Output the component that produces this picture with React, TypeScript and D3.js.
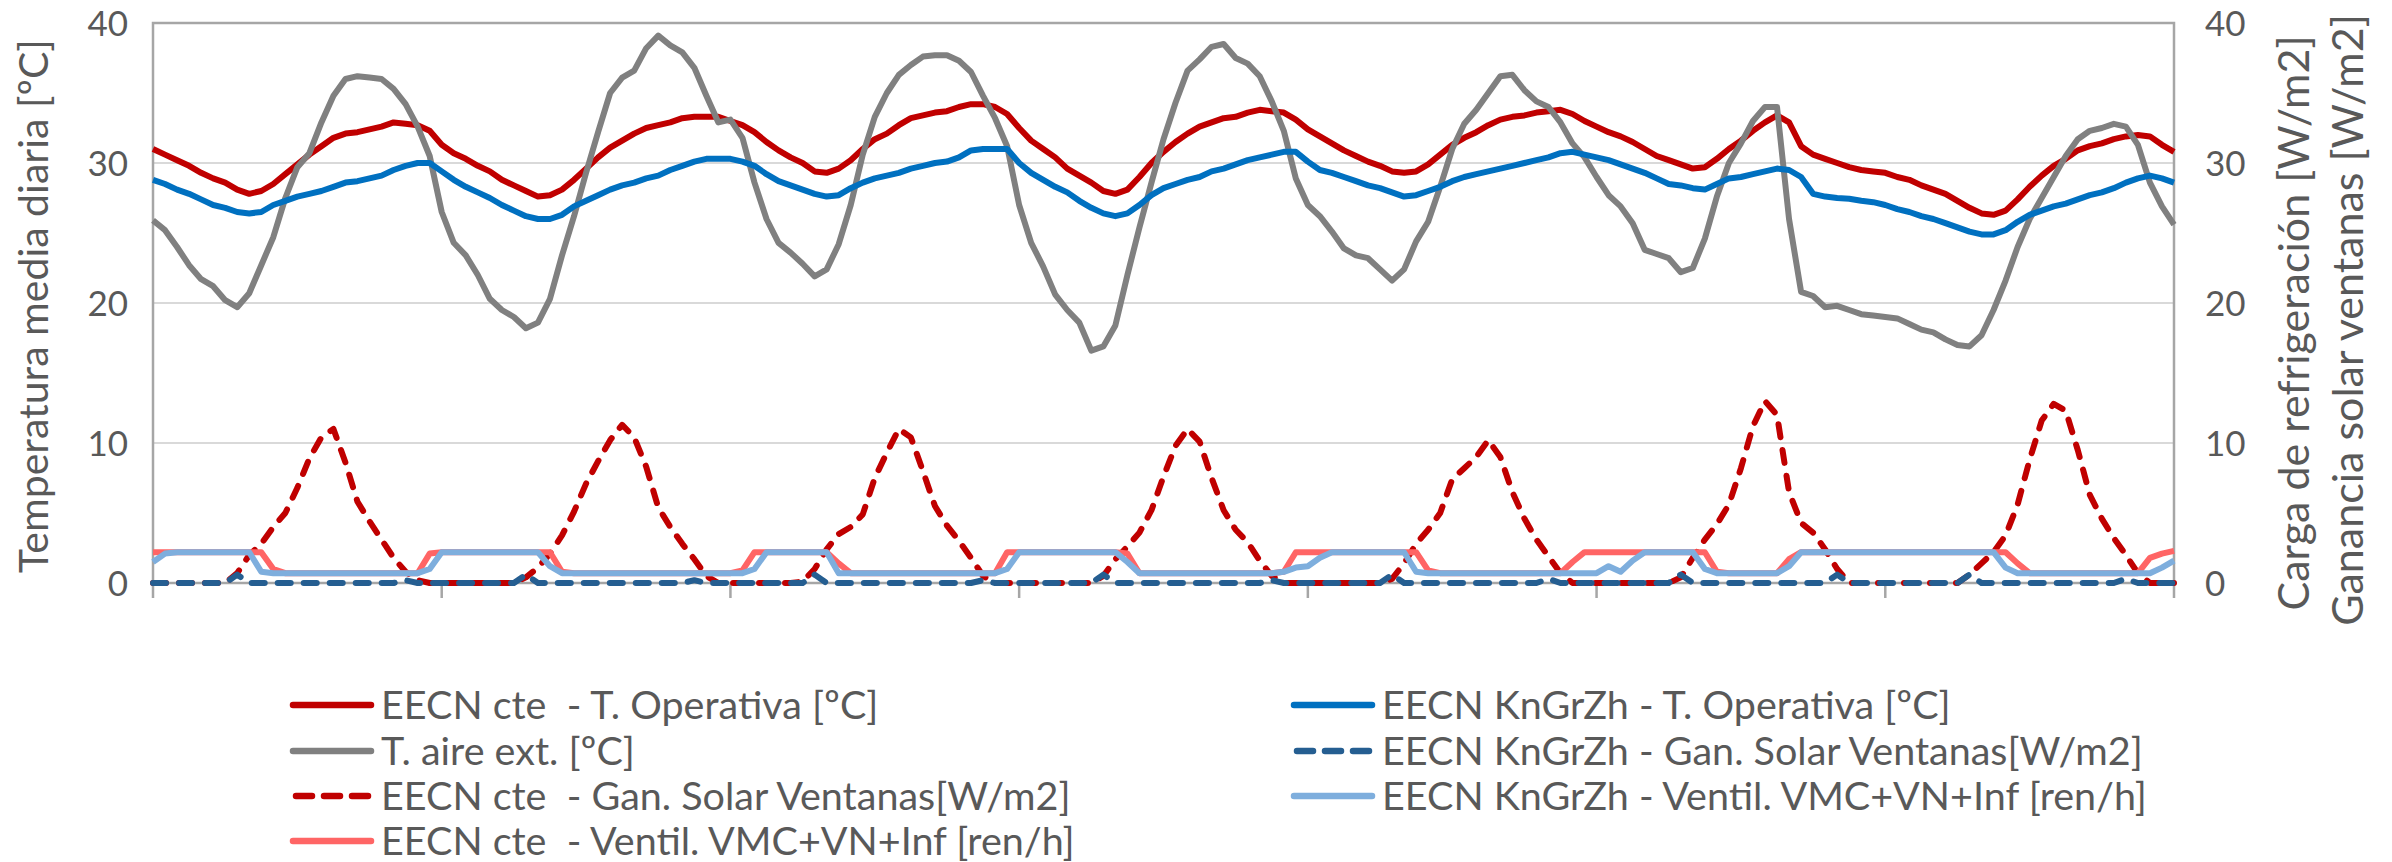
import React, { useEffect, useRef } from 'react';
import * as d3 from 'd3';

// hourly values, 7 days (169 points, hour 0..168)
const tOperCte = [
  31.0, 30.6, 30.2, 29.8, 29.3, 28.9, 28.6, 28.1, 27.8, 28.0, 28.5, 29.2, 29.9, 30.6, 31.2, 31.8, 32.1, 32.2, 32.4, 32.6, 32.9, 32.8, 32.7, 32.3,
  31.3, 30.7, 30.3, 29.8, 29.4, 28.8, 28.4, 28.0, 27.6, 27.7, 28.1, 28.8, 29.6, 30.4, 31.1, 31.6, 32.1, 32.5, 32.7, 32.9, 33.2, 33.3, 33.3, 33.3,
  33.0, 32.7, 32.2, 31.5, 30.9, 30.4, 30.0, 29.4, 29.3, 29.6, 30.2, 31.0, 31.7, 32.1, 32.7, 33.2, 33.4, 33.6, 33.7, 34.0, 34.2, 34.2, 34.0, 33.5,
  32.5, 31.6, 31.0, 30.4, 29.6, 29.1, 28.6, 28.0, 27.8, 28.1, 29.0, 30.0, 30.8, 31.5, 32.1, 32.6, 32.9, 33.2, 33.3, 33.6, 33.8, 33.7, 33.6, 33.1,
  32.4, 31.9, 31.4, 30.9, 30.5, 30.1, 29.8, 29.4, 29.3, 29.4, 29.9, 30.6, 31.3, 31.8, 32.2, 32.7, 33.1, 33.3, 33.4, 33.6, 33.7, 33.8, 33.5, 33.0,
  32.6, 32.2, 31.9, 31.5, 31.0, 30.5, 30.2, 29.9, 29.6, 29.7, 30.3, 31.0, 31.6, 32.3, 32.9, 33.4, 32.9, 31.2, 30.6, 30.3, 30.0, 29.7, 29.5, 29.4,
  29.3, 29.0, 28.8, 28.4, 28.1, 27.8, 27.3, 26.8, 26.4, 26.3, 26.6, 27.4, 28.3, 29.1, 29.8, 30.3, 30.9, 31.2, 31.4, 31.7, 31.9, 32.0, 31.9, 31.3, 30.8
];

const tOperKn = [
  28.8, 28.5, 28.1, 27.8, 27.4, 27.0, 26.8, 26.5, 26.4, 26.5, 27.0, 27.3, 27.6, 27.8, 28.0, 28.3, 28.6, 28.7, 28.9, 29.1, 29.5, 29.8, 30.0, 30.0,
  29.4, 28.8, 28.3, 27.9, 27.5, 27.0, 26.6, 26.2, 26.0, 26.0, 26.3, 26.9, 27.3, 27.7, 28.1, 28.4, 28.6, 28.9, 29.1, 29.5, 29.8, 30.1, 30.3, 30.3,
  30.3, 30.1, 29.8, 29.2, 28.7, 28.4, 28.1, 27.8, 27.6, 27.7, 28.2, 28.6, 28.9, 29.1, 29.3, 29.6, 29.8, 30.0, 30.1, 30.4, 30.9, 31.0, 31.0, 31.0,
  30.0, 29.3, 28.8, 28.3, 27.9, 27.3, 26.8, 26.4, 26.2, 26.4, 27.0, 27.7, 28.2, 28.5, 28.8, 29.0, 29.4, 29.6, 29.9, 30.2, 30.4, 30.6, 30.8, 30.8,
  30.1, 29.5, 29.3, 29.0, 28.7, 28.4, 28.2, 27.9, 27.6, 27.7, 28.0, 28.3, 28.7, 29.0, 29.2, 29.4, 29.6, 29.8, 30.0, 30.2, 30.4, 30.7, 30.8, 30.6,
  30.4, 30.2, 29.9, 29.6, 29.3, 28.9, 28.5, 28.4, 28.2, 28.1, 28.5, 28.9, 29.0, 29.2, 29.4, 29.6, 29.5, 29.0, 27.8, 27.6, 27.5, 27.45, 27.3, 27.2,
  27.0, 26.7, 26.5, 26.2, 26.0, 25.7, 25.4, 25.1, 24.9, 24.9, 25.2, 25.8, 26.3, 26.6, 26.9, 27.1, 27.4, 27.7, 27.9, 28.2, 28.6, 28.9, 29.1, 28.9, 28.6
];

const tAire = [
  25.9, 25.2, 24.0, 22.7, 21.7, 21.2, 20.2, 19.7, 20.7, 22.7, 24.7, 27.5, 29.7, 30.7, 32.9, 34.8, 36.0, 36.2, 36.1, 36.0, 35.3, 34.2, 32.6, 30.5,
  26.5, 24.3, 23.4, 22.0, 20.3, 19.5, 19.0, 18.2, 18.6, 20.3, 23.4, 26.2, 29.3, 32.2, 35.0, 36.1, 36.6, 38.2, 39.1, 38.4, 37.9, 36.8, 34.8, 32.9,
  33.1, 31.8, 28.6, 26.0, 24.3, 23.6, 22.8, 21.9, 22.4, 24.2, 27.0, 30.6, 33.3, 35.0, 36.3, 37.0, 37.6, 37.7, 37.7, 37.3, 36.5, 34.8, 33.2, 31.2,
  27.0, 24.3, 22.6, 20.6, 19.5, 18.6, 16.6, 16.9, 18.4, 22.0, 25.4, 28.6, 31.7, 34.3, 36.6, 37.4, 38.3, 38.5, 37.5, 37.1, 36.2, 34.4, 32.3, 28.9,
  27.0, 26.2, 25.1, 23.9, 23.4, 23.2, 22.4, 21.6, 22.4, 24.4, 25.8, 28.3, 31.0, 32.8, 33.8, 35.0, 36.2, 36.3, 35.2, 34.4, 34.0, 32.9, 31.4, 30.4,
  29.0, 27.7, 26.9, 25.7, 23.8, 23.5, 23.2, 22.2, 22.5, 24.6, 27.6, 30.0, 31.4, 33.0, 34.0, 34.0, 26.0, 20.8, 20.5, 19.7, 19.8, 19.5, 19.2, 19.1,
  19.0, 18.9, 18.5, 18.1, 17.9, 17.4, 17.0, 16.9, 17.7, 19.5, 21.6, 24.0, 26.0, 27.5, 29.0, 30.5, 31.7, 32.3, 32.5, 32.8, 32.6, 31.3, 28.6, 26.9, 25.6
];

const solarCte = [
  0, 0, 0, 0, 0, 0, 0, 0.7, 2.0, 2.8, 4.0, 5.0, 6.8, 8.9, 10.4, 11.0, 8.6, 5.8, 4.4, 3.1, 1.8, 0.8, 0.2, 0,
  0, 0, 0, 0, 0, 0, 0, 0.4, 1.1, 2.1, 3.4, 5.1, 7.1, 8.7, 10.2, 11.3, 10.4, 8.3, 5.4, 4.0, 2.8, 1.7, 0.5, 0,
  0, 0, 0, 0, 0, 0, 0.1, 1.0, 2.4, 3.5, 4.0, 4.9, 7.5, 9.3, 11.0, 10.4, 8.0, 5.5, 4.1, 3.0, 1.8, 0.5, 0, 0,
  0, 0, 0, 0, 0, 0, 0, 0.5, 1.7, 2.6, 3.6, 5.2, 7.6, 9.8, 11.0, 10.1, 7.5, 5.2, 3.8, 2.9, 1.6, 0.5, 0, 0,
  0, 0, 0, 0, 0, 0, 0, 0.3, 1.4, 2.8, 3.8, 5.0, 7.4, 8.2, 9.0, 10.2, 9.0, 6.5, 4.6, 3.1, 1.9, 0.7, 0, 0,
  0, 0, 0, 0, 0, 0, 0, 0.4, 1.8, 3.1, 4.2, 5.6, 8.2, 11.2, 13.0, 12.0, 6.5, 4.3, 3.6, 2.4, 1.0, 0, 0, 0,
  0, 0, 0, 0, 0, 0, 0, 0.6, 1.4, 2.2, 3.4, 5.6, 8.8, 11.6, 12.8, 12.3, 9.5, 6.3, 4.6, 3.2, 2.0, 0.7, 0, 0, 0
];

const solarKn = [
  0, 0, 0, 0, 0, 0, 0, 0.6, 0, 0, 0, 0, 0, 0, 0, 0, 0, 0, 0, 0, 0, 0.2, 0, 0,
  0, 0, 0, 0, 0, 0, 0, 0.6, 0, 0, 0, 0, 0, 0, 0, 0, 0, 0, 0, 0, 0, 0.2, 0, 0,
  0, 0, 0, 0, 0, 0, 0, 0.6, 0, 0, 0, 0, 0, 0, 0, 0, 0, 0, 0, 0, 0, 0.2, 0, 0,
  0, 0, 0, 0, 0, 0, 0, 0.6, 0, 0, 0, 0, 0, 0, 0, 0, 0, 0, 0, 0, 0, 0.2, 0, 0,
  0, 0, 0, 0, 0, 0, 0, 0.6, 0, 0, 0, 0, 0, 0, 0, 0, 0, 0, 0, 0, 0.3, 0, 0, 0,
  0, 0, 0, 0, 0, 0, 0, 0.6, 0, 0, 0, 0, 0, 0, 0, 0, 0, 0, 0, 0, 0.6, 0, 0, 0,
  0, 0, 0, 0, 0, 0, 0, 0.6, 0, 0, 0, 0, 0, 0, 0, 0, 0, 0, 0, 0, 0.3, 0, 0, 0, 0
];

const ventCte = [
  2.2, 2.2, 2.2, 2.2, 2.2, 2.2, 2.2, 2.2, 2.2, 2.2, 1.0, 0.7, 0.7, 0.7, 0.7, 0.7, 0.7, 0.7, 0.7, 0.7, 0.7, 0.7, 0.7, 2.1,
  2.2, 2.2, 2.2, 2.2, 2.2, 2.2, 2.2, 2.2, 2.2, 2.2, 0.8, 0.7, 0.7, 0.7, 0.7, 0.7, 0.7, 0.7, 0.7, 0.7, 0.7, 0.7, 0.7, 0.7,
  0.7, 0.9, 2.2, 2.2, 2.2, 2.2, 2.2, 2.2, 2.2, 1.4, 0.7, 0.7, 0.7, 0.7, 0.7, 0.7, 0.7, 0.7, 0.7, 0.7, 0.7, 0.7, 0.7, 2.2,
  2.2, 2.2, 2.2, 2.2, 2.2, 2.2, 2.2, 2.2, 2.2, 2.1, 0.7, 0.7, 0.7, 0.7, 0.7, 0.7, 0.7, 0.7, 0.7, 0.7, 0.7, 0.7, 0.8, 2.2,
  2.2, 2.2, 2.2, 2.2, 2.2, 2.2, 2.2, 2.2, 2.2, 2.2, 0.9, 0.7, 0.7, 0.7, 0.7, 0.7, 0.7, 0.7, 0.7, 0.7, 0.7, 0.7, 1.5, 2.2,
  2.2, 2.2, 2.2, 2.2, 2.2, 2.2, 2.2, 2.2, 2.2, 2.2, 0.8, 0.7, 0.7, 0.7, 0.7, 0.7, 1.7, 2.2, 2.2, 2.2, 2.2, 2.2, 2.2, 2.2,
  2.2, 2.2, 2.2, 2.2, 2.2, 2.2, 2.2, 2.2, 2.2, 2.2, 2.2, 1.4, 0.7, 0.7, 0.7, 0.7, 0.7, 0.7, 0.7, 0.7, 0.7, 0.7, 1.8, 2.1, 2.3
];

const ventKn = [
  1.5, 2.1, 2.2, 2.2, 2.2, 2.2, 2.2, 2.2, 2.2, 0.8, 0.7, 0.7, 0.7, 0.7, 0.7, 0.7, 0.7, 0.7, 0.7, 0.7, 0.7, 0.7, 0.7, 1.0,
  2.2, 2.2, 2.2, 2.2, 2.2, 2.2, 2.2, 2.2, 2.2, 1.2, 0.7, 0.7, 0.7, 0.7, 0.7, 0.7, 0.7, 0.7, 0.7, 0.7, 0.7, 0.7, 0.7, 0.7,
  0.7, 0.7, 1.0, 2.2, 2.2, 2.2, 2.2, 2.2, 2.2, 0.7, 0.7, 0.7, 0.7, 0.7, 0.7, 0.7, 0.7, 0.7, 0.7, 0.7, 0.7, 0.7, 0.7, 1.0,
  2.2, 2.2, 2.2, 2.2, 2.2, 2.2, 2.2, 2.2, 2.2, 1.5, 0.7, 0.7, 0.7, 0.7, 0.7, 0.7, 0.7, 0.7, 0.7, 0.7, 0.7, 0.7, 0.8, 1.1,
  1.2, 1.8, 2.2, 2.2, 2.2, 2.2, 2.2, 2.2, 2.2, 0.8, 0.7, 0.7, 0.7, 0.7, 0.7, 0.7, 0.7, 0.7, 0.7, 0.7, 0.7, 0.7, 0.7, 0.7,
  0.7, 1.2, 0.8, 1.6, 2.2, 2.2, 2.2, 2.2, 2.2, 1.0, 0.7, 0.7, 0.7, 0.7, 0.7, 0.7, 1.2, 2.2, 2.2, 2.2, 2.2, 2.2, 2.2, 2.2,
  2.2, 2.2, 2.2, 2.2, 2.2, 2.2, 2.2, 2.2, 2.2, 2.2, 1.1, 0.7, 0.7, 0.7, 0.7, 0.7, 0.7, 0.7, 0.7, 0.7, 0.7, 0.7, 0.7, 1.1, 1.6
];

const yTicks = [0, 10, 20, 30, 40];
const dayTicks = [0, 24, 48, 72, 96, 120, 144, 168];

const legendLeft = [
  'EECN cte  - T. Operativa [ºC]',
  'T. aire ext. [ºC]',
  'EECN cte  - Gan. Solar Ventanas[W/m2]',
  'EECN cte  - Ventil. VMC+VN+Inf [ren/h]'
];
const legendRight = [
  'EECN KnGrZh - T. Operativa [ºC]',
  'EECN KnGrZh - Gan. Solar Ventanas[W/m2]',
  'EECN KnGrZh - Ventil. VMC+VN+Inf [ren/h]'
];

const W = 2392;
const H = 862;
const FONT = 'Lato, "Open Sans", sans-serif';
const TXT = '#595959';

export default function App() {
  const ref = useRef(null);

  useEffect(() => {
    const box = ref.current;
    d3.select(box).selectAll('*').remove();

    const left = 153, right = 2174, top = 23, bottom = 583;

    const svg = d3.select(box)
      .append('svg')
      .attr('width', W)
      .attr('height', H)
      .style('position', 'fixed')
      .style('left', 0)
      .style('top', 0)
      .style('background', '#fff');

    const x = d3.scaleLinear().domain([0, 168]).range([left, right]);
    const y = d3.scaleLinear().domain([0, 40]).range([bottom, top]);

    // gridlines
    svg.append('g')
      .selectAll('line')
      .data(yTicks.filter(d => d > 0 && d < 40))
      .enter()
      .append('line')
      .attr('x1', left).attr('x2', right)
      .attr('y1', d => y(d)).attr('y2', d => y(d))
      .attr('stroke', '#d9d9d9')
      .attr('stroke-width', 2);

    // plot border
    svg.append('rect')
      .attr('x', left).attr('y', top)
      .attr('width', right - left).attr('height', bottom - top)
      .attr('fill', 'none')
      .attr('stroke', '#a6a6a6')
      .attr('stroke-width', 2.5);

    // x ticks
    svg.append('g')
      .selectAll('line')
      .data(dayTicks)
      .enter()
      .append('line')
      .attr('x1', d => x(d)).attr('x2', d => x(d))
      .attr('y1', bottom).attr('y2', bottom + 15)
      .attr('stroke', '#a6a6a6')
      .attr('stroke-width', 2.5);

    // y labels left + right
    const yl = svg.append('g')
      .attr('font-family', FONT)
      .attr('font-size', 35)
      .attr('fill', TXT);
    yl.selectAll('.l')
      .data(yTicks)
      .enter()
      .append('text')
      .attr('x', 128)
      .attr('y', d => y(d))
      .attr('dy', '0.36em')
      .attr('text-anchor', 'end')
      .text(d => d);
    yl.selectAll('.r')
      .data(yTicks)
      .enter()
      .append('text')
      .attr('x', 2205)
      .attr('y', d => y(d))
      .attr('dy', '0.36em')
      .attr('text-anchor', 'start')
      .text(d => d);

    // axis titles
    const title = (tx, ty, size, s) => {
      svg.append('text')
        .attr('transform', `translate(${tx},${ty}) rotate(-90)`)
        .attr('text-anchor', 'middle')
        .attr('font-family', FONT)
        .attr('font-size', size)
        .attr('fill', TXT)
        .text(s);
    };
    title(48, 306, 41, 'Temperatura media diaria [ºC]');
    title(2309, 323, 43, 'Carga de refrigeración [W/m2]');
    title(2363, 320, 43, 'Ganancia solar ventanas [W/m2]');

    const series = [
      { v: tOperCte, color: '#C00000', dash: null },
      { v: tAire, color: '#808080', dash: null },
      { v: solarCte, color: '#C00000', dash: '13 13' },
      { v: ventCte, color: '#FF6565', dash: null },
      { v: tOperKn, color: '#0070C0', dash: null },
      { v: solarKn, color: '#255E91', dash: '13 13' },
      { v: ventKn, color: '#7EAEDD', dash: null }
    ];

    const line = d3.line()
      .x((d, i) => x(i))
      .y(d => y(d));

    series.forEach(s => {
      svg.append('path')
        .datum(s.v)
        .attr('d', line)
        .attr('fill', 'none')
        .attr('stroke', s.color)
        .attr('stroke-width', 6)
        .attr('stroke-linejoin', 'round')
        .attr('stroke-linecap', s.dash ? 'round' : 'butt')
        .attr('stroke-dasharray', s.dash);
    });

    // legend
    const leg = svg.append('g')
      .attr('font-family', FONT)
      .attr('font-size', 39.5)
      .attr('fill', TXT);
    const rowsY = [705, 751, 796, 841];
    const legItems = [
      { t: legendLeft[0], c: series[0], col: 0, row: 0 },
      { t: legendLeft[1], c: series[1], col: 0, row: 1 },
      { t: legendLeft[2], c: series[2], col: 0, row: 2 },
      { t: legendLeft[3], c: series[3], col: 0, row: 3 },
      { t: legendRight[0], c: series[4], col: 1, row: 0 },
      { t: legendRight[1], c: series[5], col: 1, row: 1 },
      { t: legendRight[2], c: series[6], col: 1, row: 2 }
    ];
    legItems.forEach(it => {
      const x0 = it.col === 0 ? 293 : 1294;
      const yy = rowsY[it.row];
      leg.append('line')
        .attr('x1', x0 + (it.c.dash ? 3 : 0)).attr('x2', x0 + (it.c.dash ? 75 : 78))
        .attr('y1', yy).attr('y2', yy)
        .attr('stroke', it.c.color)
        .attr('stroke-width', 6.5)
        .attr('stroke-linecap', 'round')
        .attr('stroke-dasharray', it.c.dash ? '16 12' : null);
      leg.append('text')
        .attr('x', x0 + 88)
        .attr('y', yy)
        .attr('dy', '0.36em')
        .style('white-space', 'pre')
        .text(it.t);
    });
  }, []);

  return <div ref={ref} style={{ width: W, height: H }} />;
}
